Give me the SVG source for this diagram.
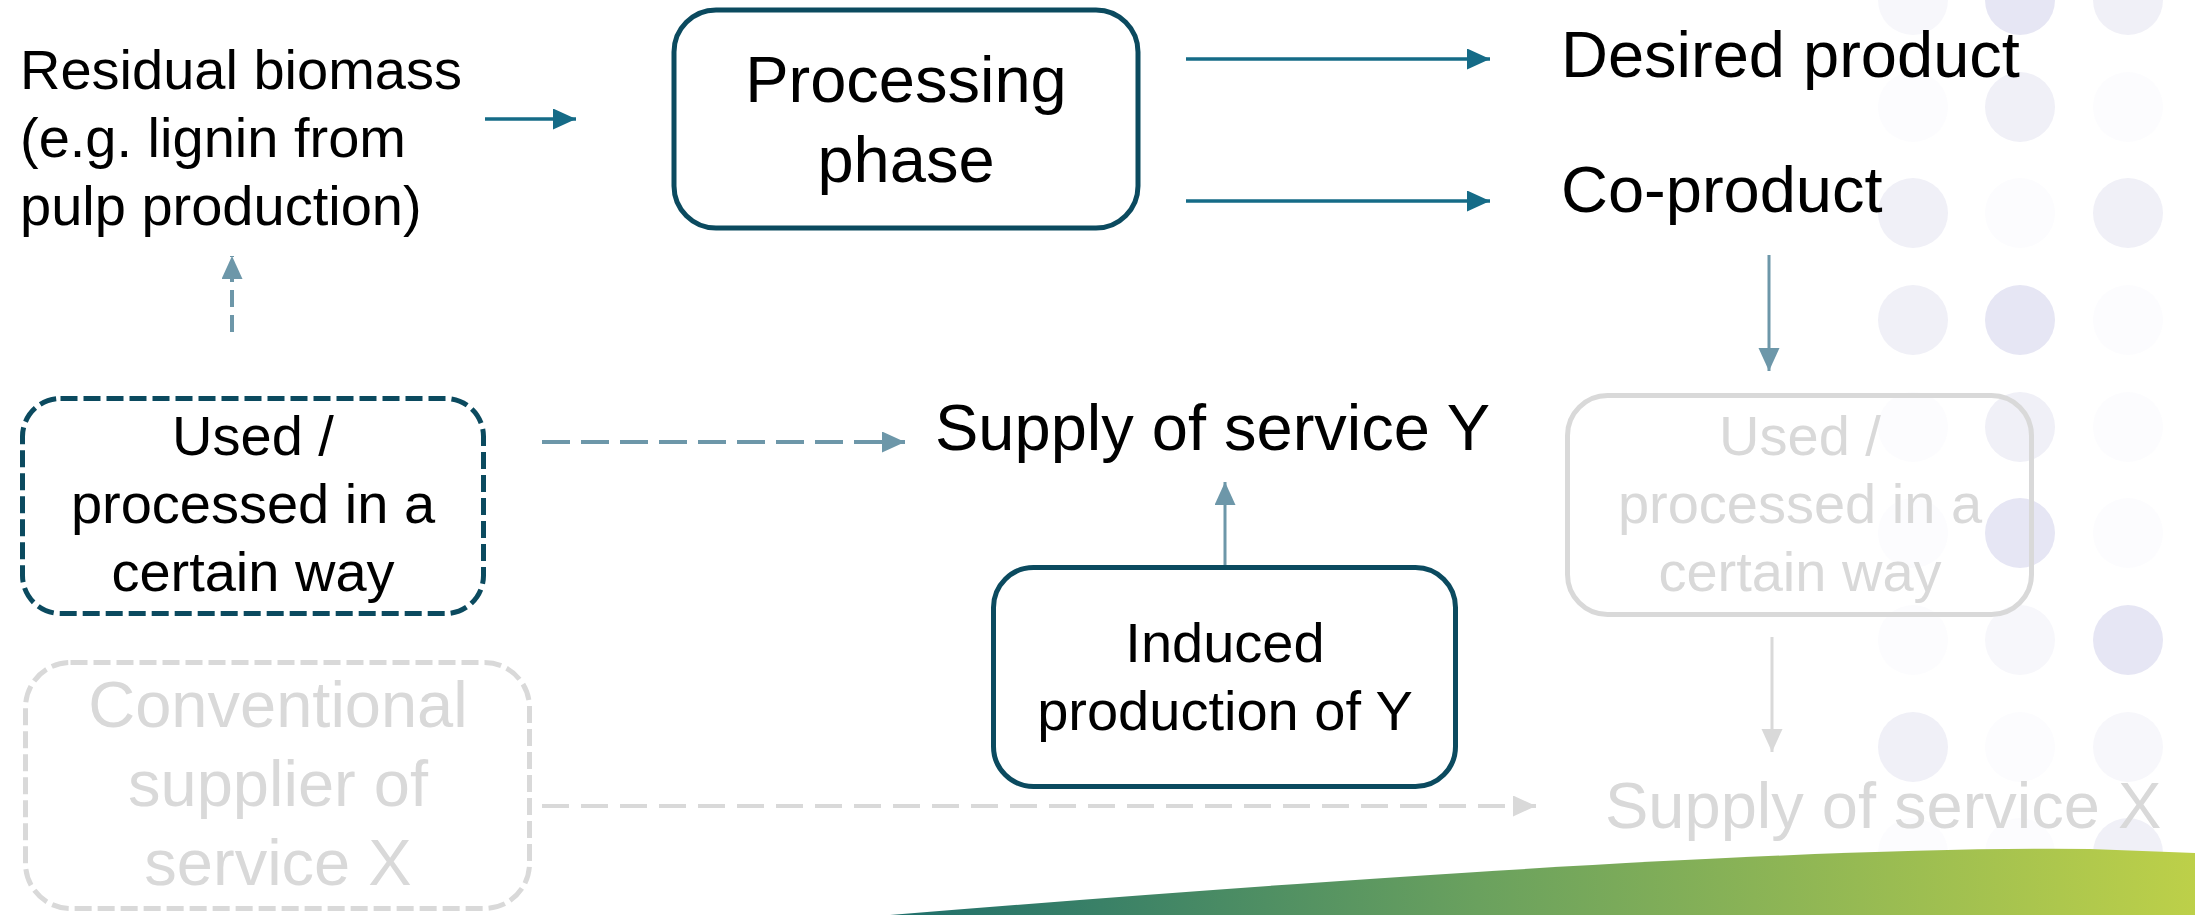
<svg xmlns="http://www.w3.org/2000/svg" width="2195" height="915" viewBox="0 0 2195 915">
  <style>
    text { font-family: "Liberation Sans", Arial, sans-serif; fill: #000; }
    .t56 { font-size: 56px; }
    .t65 { font-size: 65px; }
    .mid { text-anchor: middle; }
    .grey { fill: #d9d9d9; }
    .box { fill: none; stroke: #0b4a5f; stroke-width: 5; }
    .box-dash { fill: none; stroke: #0b4a5f; stroke-width: 5; stroke-dasharray: 17 6; }
    .gbox { fill: none; stroke: #d9d9d9; stroke-width: 5; }
    .gbox-dash { fill: none; stroke: #d9d9d9; stroke-width: 5; stroke-dasharray: 17 6; }
    .flow { fill: none; stroke: #156b87; stroke-width: 3.5; }
    .soft { fill: none; stroke: #6d97a9; stroke-width: 3; }
    .soft-dash { fill: none; stroke: #6d97a9; stroke-width: 4; stroke-dasharray: 28 11; }
    .soft-vdash { fill: none; stroke: #6d97a9; stroke-width: 4; stroke-dasharray: 17 8; }
    .gline { fill: none; stroke: #d9d9d9; stroke-width: 3; }
    .gline-dash { fill: none; stroke: #d9d9d9; stroke-width: 4; stroke-dasharray: 27 12; }
    .d1 { fill: #e6e6f4; }
    .d2 { fill: #f0f0f7; }
    .d3 { fill: #f7f7fb; }
    .d4 { fill: #fcfcfe; }
  </style>
  <defs>
    <marker id="head-flow" markerUnits="userSpaceOnUse" markerWidth="24" markerHeight="22" refX="23" refY="10.5" orient="auto">
      <path d="M0,0 L23,10.5 L0,21 Z" fill="#156b87"/>
    </marker>
    <marker id="head-soft" markerUnits="userSpaceOnUse" markerWidth="24" markerHeight="22" refX="23" refY="10.5" orient="auto">
      <path d="M0,0 L23,10.5 L0,21 Z" fill="#6d97a9"/>
    </marker>
    <marker id="head-grey" markerUnits="userSpaceOnUse" markerWidth="24" markerHeight="22" refX="23" refY="10.5" orient="auto">
      <path d="M0,0 L23,10.5 L0,21 Z" fill="#d9d9d9"/>
    </marker>
    <linearGradient id="swoosh" gradientUnits="userSpaceOnUse" x1="890" y1="915" x2="2195" y2="850">
      <stop offset="0" stop-color="#1f6f6c"/>
      <stop offset="0.45" stop-color="#6aa15e"/>
      <stop offset="1" stop-color="#bdd049"/>
    </linearGradient>
  </defs>

  <!-- decorative dot grid on the right -->
  <g id="dot-grid">
    <circle class="d3" cx="1913" cy="0" r="35"/>
    <circle class="d1" cx="2020" cy="0" r="35"/>
    <circle class="d2" cx="2128" cy="0" r="35"/>
    <circle class="d4" cx="1913" cy="107" r="35"/>
    <circle class="d2" cx="2020" cy="107" r="35"/>
    <circle class="d4" cx="2128" cy="107" r="35"/>
    <circle class="d2" cx="1913" cy="213" r="35"/>
    <circle class="d4" cx="2020" cy="213" r="35"/>
    <circle class="d2" cx="2128" cy="213" r="35"/>
    <circle class="d2" cx="1913" cy="320" r="35"/>
    <circle class="d1" cx="2020" cy="320" r="35"/>
    <circle class="d4" cx="2128" cy="320" r="35"/>
    <circle class="d4" cx="1913" cy="427" r="35"/>
    <circle class="d2" cx="2020" cy="427" r="35"/>
    <circle class="d4" cx="2128" cy="427" r="35"/>
    <circle class="d4" cx="1913" cy="533" r="35"/>
    <circle class="d1" cx="2020" cy="533" r="35"/>
    <circle class="d4" cx="2128" cy="533" r="35"/>
    <circle class="d4" cx="1913" cy="640" r="35"/>
    <circle class="d3" cx="2020" cy="640" r="35"/>
    <circle class="d1" cx="2128" cy="640" r="35"/>
    <circle class="d2" cx="1913" cy="747" r="35"/>
    <circle class="d4" cx="2020" cy="747" r="35"/>
    <circle class="d3" cx="2128" cy="747" r="35"/>
    <circle class="d4" cx="1913" cy="853" r="35"/>
    <circle class="d4" cx="2020" cy="853" r="35"/>
    <circle class="d2" cx="2128" cy="853" r="35"/>
  </g>

  <!-- green swoosh along the bottom edge -->
  <path id="swoosh-band" d="M890 915 Q1750 845 2090 849 L2195 853 L2195 915 Z" fill="url(#swoosh)"/>

  <g id="connectors">
    <line class="flow" x1="485" y1="119" x2="576" y2="119" marker-end="url(#head-flow)"/>
    <line class="flow" x1="1186" y1="59" x2="1490" y2="59" marker-end="url(#head-flow)"/>
    <line class="flow" x1="1186" y1="201" x2="1490" y2="201" marker-end="url(#head-flow)"/>
    <line class="soft" x1="1769" y1="255" x2="1769" y2="371" marker-end="url(#head-soft)"/>
    <line class="soft-vdash" x1="232" y1="332" x2="232" y2="256" marker-end="url(#head-soft)"/>
    <line class="soft-dash" x1="542" y1="442" x2="905" y2="442" marker-end="url(#head-soft)"/>
    <line class="soft" x1="1225" y1="565" x2="1225" y2="482" marker-end="url(#head-soft)"/>
    <line class="gline" x1="1772" y1="637" x2="1772" y2="752" marker-end="url(#head-grey)"/>
    <line class="gline-dash" x1="542" y1="806" x2="1536" y2="806" marker-end="url(#head-grey)"/>
  </g>

  <g id="residual-biomass">
    <text class="t56" x="20" y="89">Residual biomass</text>
    <text class="t56" x="20" y="157">(e.g. lignin from</text>
    <text class="t56" x="20" y="225">pulp production)</text>
  </g>

  <g id="processing-phase">
    <rect class="box" x="674" y="10" width="464" height="218" rx="42"/>
    <text class="t65 mid" x="906" y="102">Processing</text>
    <text class="t65 mid" x="906" y="182">phase</text>
  </g>

  <g id="desired-product">
    <text class="t65" x="1561" y="77">Desired product</text>
  </g>

  <g id="co-product">
    <text class="t65" x="1561" y="212">Co-product</text>
  </g>

  <g id="used-processed">
    <rect class="box-dash" x="22.5" y="398.5" width="461" height="215" rx="38"/>
    <text class="t56 mid" x="253" y="455">Used /</text>
    <text class="t56 mid" x="253" y="523">processed in a</text>
    <text class="t56 mid" x="253" y="591">certain way</text>
  </g>

  <g id="supply-y">
    <text class="t65" x="935" y="450">Supply of service Y</text>
  </g>

  <g id="induced-production">
    <rect class="box" x="993.5" y="567.5" width="462" height="219" rx="40"/>
    <text class="t56 mid" x="1225" y="662">Induced</text>
    <text class="t56 mid" x="1225" y="730">production of Y</text>
  </g>

  <g id="used-processed-alt">
    <rect class="gbox" x="1567.5" y="395.5" width="464" height="219" rx="40"/>
    <text class="t56 mid grey" x="1800" y="455">Used /</text>
    <text class="t56 mid grey" x="1800" y="523">processed in a</text>
    <text class="t56 mid grey" x="1800" y="591">certain way</text>
  </g>

  <g id="conventional-supplier">
    <rect class="gbox-dash" x="25.5" y="662.5" width="504" height="246" rx="45"/>
    <text class="t65 mid grey" x="278" y="727">Conventional</text>
    <text class="t65 mid grey" x="278" y="806">supplier of</text>
    <text class="t65 mid grey" x="278" y="885">service X</text>
  </g>

  <g id="supply-x">
    <text class="t65 grey" x="1605" y="828">Supply of service X</text>
  </g>
</svg>
